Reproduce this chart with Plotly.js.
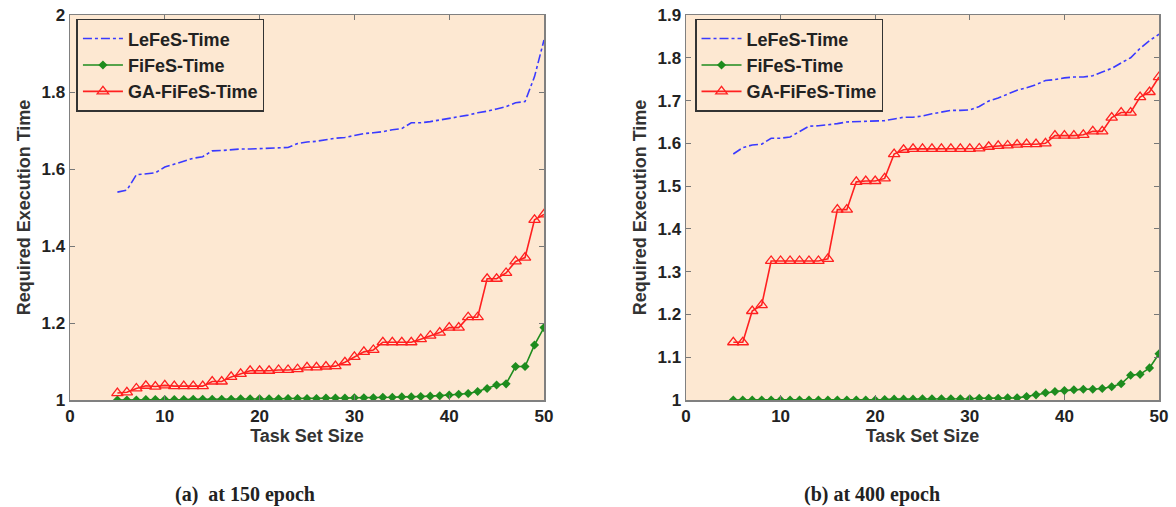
<!DOCTYPE html>
<html>
<head>
<meta charset="utf-8">
<script src="https://cdn.plot.ly/plotly-3.0.1.min.js"></script>
<style>html,body{margin:0;padding:0;background:#fff;}#chart{width:1176px;height:507px;}</style>
</head>
<body>
<div id="chart"></div>
<script>
// Task set sizes (x) shared by all series
const taskSizes = [5,6,7,8,9,10,11,12,13,14,15,16,17,18,19,20,21,22,23,24,25,26,27,28,29,30,31,32,33,34,35,36,37,38,39,40,41,42,43,44,45,46,47,48,49,50];

// (a) at 150 epoch
const lefesA = [1.540,1.545,1.585,1.587,1.590,1.605,1.613,1.620,1.628,1.632,1.647,1.648,1.650,1.652,1.652,1.653,1.655,1.655,1.656,1.666,1.670,1.672,1.677,1.680,1.682,1.687,1.692,1.694,1.697,1.702,1.705,1.720,1.720,1.723,1.727,1.731,1.735,1.740,1.746,1.750,1.756,1.762,1.772,1.775,1.840,1.935];
const fifesA = [1.000,1.000,1.000,1.001,1.001,1.001,1.001,1.001,1.002,1.002,1.002,1.002,1.002,1.003,1.003,1.003,1.003,1.003,1.004,1.004,1.004,1.004,1.005,1.005,1.005,1.006,1.006,1.006,1.007,1.007,1.008,1.008,1.009,1.010,1.011,1.013,1.015,1.017,1.022,1.030,1.039,1.042,1.087,1.087,1.143,1.188];
const gaA = [1.018,1.020,1.030,1.037,1.035,1.038,1.036,1.036,1.036,1.036,1.048,1.048,1.060,1.068,1.076,1.076,1.076,1.078,1.078,1.080,1.085,1.085,1.087,1.088,1.098,1.112,1.125,1.130,1.150,1.150,1.150,1.150,1.158,1.167,1.175,1.188,1.188,1.215,1.215,1.315,1.315,1.330,1.360,1.370,1.468,1.482];

// (b) at 400 epoch
const lefesB = [1.575,1.590,1.596,1.598,1.612,1.612,1.615,1.628,1.640,1.641,1.643,1.646,1.650,1.651,1.652,1.652,1.653,1.657,1.661,1.661,1.664,1.669,1.673,1.677,1.677,1.678,1.686,1.699,1.706,1.715,1.724,1.730,1.737,1.747,1.749,1.753,1.755,1.755,1.758,1.767,1.775,1.788,1.800,1.822,1.840,1.855];
const fifesB = [1.000,1.000,1.000,1.000,1.000,1.000,1.000,1.000,1.000,1.000,1.000,1.000,1.000,1.000,1.000,1.000,1.001,1.002,1.002,1.002,1.003,1.003,1.003,1.003,1.003,1.003,1.004,1.004,1.004,1.005,1.005,1.008,1.012,1.017,1.020,1.022,1.024,1.025,1.025,1.027,1.031,1.038,1.058,1.060,1.075,1.108];
const gaB = [1.135,1.135,1.208,1.222,1.325,1.325,1.325,1.325,1.325,1.325,1.330,1.445,1.445,1.510,1.512,1.512,1.518,1.575,1.585,1.587,1.587,1.587,1.587,1.587,1.587,1.587,1.588,1.592,1.594,1.595,1.597,1.598,1.598,1.600,1.618,1.618,1.618,1.620,1.628,1.628,1.660,1.672,1.672,1.708,1.720,1.755];

const seriesNames = ['LeFeS-Time','FiFeS-Time','GA-FiFeS-Time'];
const xTicks = [0,10,20,30,40,50];
const yTicksA = [1,1.2,1.4,1.6,1.8,2];
const yTicksB = [1,1.1,1.2,1.3,1.4,1.5,1.6,1.7,1.8,1.9];
const captions = ['(a)  at 150 epoch','(b) at 400 epoch'];
const xTitle = 'Task Set Size';
const yTitle = 'Required Execution Time';

const BLUE = '#3a3aff', GREEN = '#1e8c1e', RED = '#ff2020';
const BG = '#fde8d2';

function traces(lefes, fifes, ga, xa, ya, leg) {
  return [
    {x: taskSizes, y: lefes, name: seriesNames[0], type: 'scatter', mode: 'lines',
     line: {color: BLUE, width: 1.6, dash: 'dashdot'}, xaxis: xa, yaxis: ya, legend: leg},
    {x: taskSizes, y: fifes, name: seriesNames[1], type: 'scatter', mode: 'lines+markers',
     line: {color: GREEN, width: 1.6}, marker: {symbol: 'diamond', size: 7, color: GREEN},
     xaxis: xa, yaxis: ya, legend: leg},
    {x: taskSizes, y: ga, name: seriesNames[2], type: 'scatter', mode: 'lines+markers',
     line: {color: RED, width: 1.6},
     marker: {symbol: 'triangle-up-open', size: 10, color: RED, line: {width: 1.3, color: RED}},
     xaxis: xa, yaxis: ya, legend: leg}
  ];
}

const data = [].concat(
  traces(lefesA, fifesA, gaA, 'x', 'y', 'legend'),
  traces(lefesB, fifesB, gaB, 'x2', 'y2', 'legend2')
);

const tickFont = {family: 'Arial, Liberation Sans, sans-serif', size: 17, color: '#222', weight: 'bold'};
const titleFont = {family: 'Arial, Liberation Sans, sans-serif', size: 18, color: '#333', weight: 'bold'};

function xaxis(domain, anchor) {
  return {domain: domain, anchor: anchor, range: [0, 50], tickvals: xTicks, ticks: 'inside', ticklen: 5,
    tickcolor: '#777', showline: true, linecolor: '#808080', linewidth: 1.5, mirror: 'ticks',
    showgrid: false, zeroline: false, tickfont: tickFont,
    title: {text: xTitle, font: titleFont, standoff: 2}};
}
function yaxis(range, ticks, anchor) {
  return {domain: [0, 1], anchor: anchor, range: range, tickvals: ticks, ticks: 'inside', ticklen: 5,
    tickcolor: '#777', showline: true, linecolor: '#808080', linewidth: 1.5, mirror: 'ticks',
    showgrid: false, zeroline: false, tickfont: tickFont,
    title: {text: yTitle, font: titleFont, standoff: 6}};
}

const legendStyle = (x) => ({x: x, y: 0.99, xanchor: 'left', yanchor: 'top', bgcolor: BG,
  bordercolor: '#333', borderwidth: 1.5, font: {family: 'Arial, Liberation Sans, sans-serif', size: 18, color: '#222', weight: 'bold'},
  tracegroupgap: 0, itemwidth: 40});

const layout = {
  width: 1176, height: 507,
  margin: {l: 0, r: 0, t: 15, b: 107},
  paper_bgcolor: '#ffffff', plot_bgcolor: BG,
  showlegend: true,
  xaxis: xaxis([70/1176, 544/1176], 'y'),
  yaxis: yaxis([1, 2], yTicksA, 'x'),
  xaxis2: xaxis([686/1176, 1159/1176], 'y2'),
  yaxis2: yaxis([1, 1.9], yTicksB, 'x2'),
  legend: legendStyle(0.065),
  legend2: legendStyle(0.591),
  annotations: [
    {text: captions[0], xref: 'paper', yref: 'paper', x: 245/1176, y: -0.245, xanchor: 'center', yanchor: 'middle',
     showarrow: false, font: {family: 'Liberation Serif, serif', size: 20, color: '#222', weight: 'bold'}},
    {text: captions[1], xref: 'paper', yref: 'paper', x: 872/1176, y: -0.245, xanchor: 'center', yanchor: 'middle',
     showarrow: false, font: {family: 'Liberation Serif, serif', size: 20, color: '#222', weight: 'bold'}}
  ]
};

Plotly.newPlot('chart', data, layout, {displayModeBar: false, staticPlot: true});
</script>
</body>
</html>
